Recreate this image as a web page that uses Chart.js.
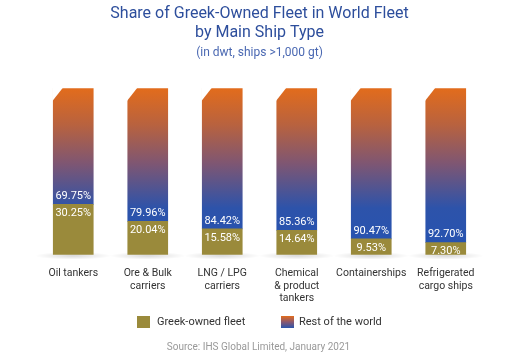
<!DOCTYPE html>
<html>
<head>
<meta charset="utf-8">
<script src="https://cdn.jsdelivr.net/npm/chart.js@4.4.0/dist/chart.umd.min.js"></script>
<style>
  body { margin: 0; background: #fff; font-family: Roboto, sans-serif; }
  #wrap { position: relative; width: 517px; height: 363px; }
  #legend { position: absolute; left: 0; top: 314px; width: 517px; height: 16px; font-size: 11px; color: #333; }
  .lg { position: absolute; top: 0; line-height: 15px; }
  .sw { position: absolute; top: 2px; width: 13px; height: 12px; }
  #source { position: absolute; left: 0; top: 341px; width: 517px; text-align: center; font-size: 10px; color: #999; }
</style>
</head>
<body>
<div id="wrap">
  <canvas id="mycanvas" width="517" height="363"></canvas>
  <div id="legend">
    <div class="sw" style="left:137px;background:#9a8a3b"></div>
    <div class="lg" style="left:157px">Greek-owned fleet</div>
    <div class="sw" style="left:281px;background:linear-gradient(#e26c1c,#8a5870,#2a54ad)"></div>
    <div class="lg" style="left:299px">Rest of the world</div>
  </div>
  <div id="source">Source: IHS Global Limited, January 2021</div>
</div>
<script>
var categories = [
  ["Oil tankers"],
  ["Ore & Bulk", "carriers"],
  ["LNG / LPG", "carriers"],
  ["Chemical", "& product", "tankers"],
  ["Containerships"],
  ["Refrigerated", "cargo ships"]
];
var greekShare = [30.25, 20.04, 15.58, 14.64, 9.53, 7.30];
var restShare = [69.75, 79.96, 84.42, 85.36, 90.47, 92.70];

var olive = '#9a8a3b';

function restGradient(context) {
  var chart = context.chart;
  var area = chart.chartArea;
  if (!area) return '#2a54ad';
  var g = chart.ctx.createLinearGradient(0, area.top, 0, area.bottom);
  g.addColorStop(0, '#e26c1c');
  g.addColorStop(0.22, '#b8623f');
  g.addColorStop(0.45, '#7f5672');
  g.addColorStop(0.72, '#2d53aa');
  g.addColorStop(1, '#2553b2');
  return g;
}

// soft shadow under each bar + chamfered top-left corner + value labels
var barDeco = {
  id: 'barDeco',
  beforeDatasetsDraw: function(chart) {
    var ctx = chart.ctx;
    var bars = chart.getDatasetMeta(0).data;
    bars.forEach(function(b) {
      ctx.save();
      ctx.translate(b.x, b.base + 1);
      ctx.scale(1, 0.1);
      var g = ctx.createRadialGradient(0, 0, 0, 0, 0, 38);
      g.addColorStop(0, 'rgba(0,0,0,0.15)');
      g.addColorStop(1, 'rgba(0,0,0,0)');
      ctx.fillStyle = g;
      ctx.beginPath();
      ctx.arc(0, 0, 38, 0, Math.PI * 2);
      ctx.fill();
      ctx.restore();
    });
  },
  afterDatasetsDraw: function(chart) {
    var ctx = chart.ctx;
    var greek = chart.getDatasetMeta(0).data;
    var rest = chart.getDatasetMeta(1).data;
    ctx.save();
    rest.forEach(function(b, i) {
      var left = b.x - b.width / 2;
      ctx.fillStyle = '#fff';
      ctx.beginPath();
      ctx.moveTo(left - 1, b.y - 1);
      ctx.lineTo(left + 10, b.y - 1);
      ctx.lineTo(left - 1, b.y + 13);
      ctx.closePath();
      ctx.fill();

      ctx.fillStyle = '#fff';
      ctx.font = '11px Roboto';
      ctx.textAlign = 'center';
      ctx.textBaseline = 'middle';
      ctx.fillText(restShare[i].toFixed(2) + '%', b.x, b.base - 8);
      ctx.fillText(greekShare[i].toFixed(2) + '%', greek[i].x, greek[i].y + 9);
    });
    ctx.restore();
  }
};

var ctx = document.getElementById('mycanvas');

var chart = new Chart(ctx, {
  type: 'bar',
  data: {
    labels: categories,
    datasets: [
      {
        label: 'Greek-owned fleet',
        data: greekShare,
        backgroundColor: olive,
        barThickness: 40
      },
      {
        label: 'Rest of the world',
        data: restShare,
        backgroundColor: restGradient,
        barThickness: 40
      }
    ]
  },
  options: {
    responsive: false,
    animation: false,
    layout: { padding: { left: 36, right: 34, top: 0, bottom: 54 } },
    plugins: {
      legend: { display: false },
      tooltip: { enabled: false },
      title: {
        display: true,
        text: ['Share of Greek-Owned Fleet in World Fleet', 'by Main Ship Type'],
        color: '#2d4e9c',
        font: { family: 'Roboto', size: 16, weight: 'normal', lineHeight: 1.15 },
        padding: { top: 5, bottom: 2 }
      },
      subtitle: {
        display: true,
        text: '(in dwt, ships >1,000 gt)',
        color: '#4a68b2',
        font: { family: 'Roboto', size: 12 },
        padding: { top: 2, bottom: 28 }
      }
    },
    scales: {
      x: {
        stacked: true,
        grid: { display: false },
        border: { display: false },
        ticks: {
          color: '#333',
          font: { family: 'Roboto', size: 10.5, lineHeight: 1.15 },
          padding: 5,
          maxRotation: 0,
          autoSkip: false
        }
      },
      y: {
        stacked: true,
        display: false,
        min: 0,
        max: 100
      }
    }
  },
  plugins: [barDeco]
});
</script>
</body>
</html>
